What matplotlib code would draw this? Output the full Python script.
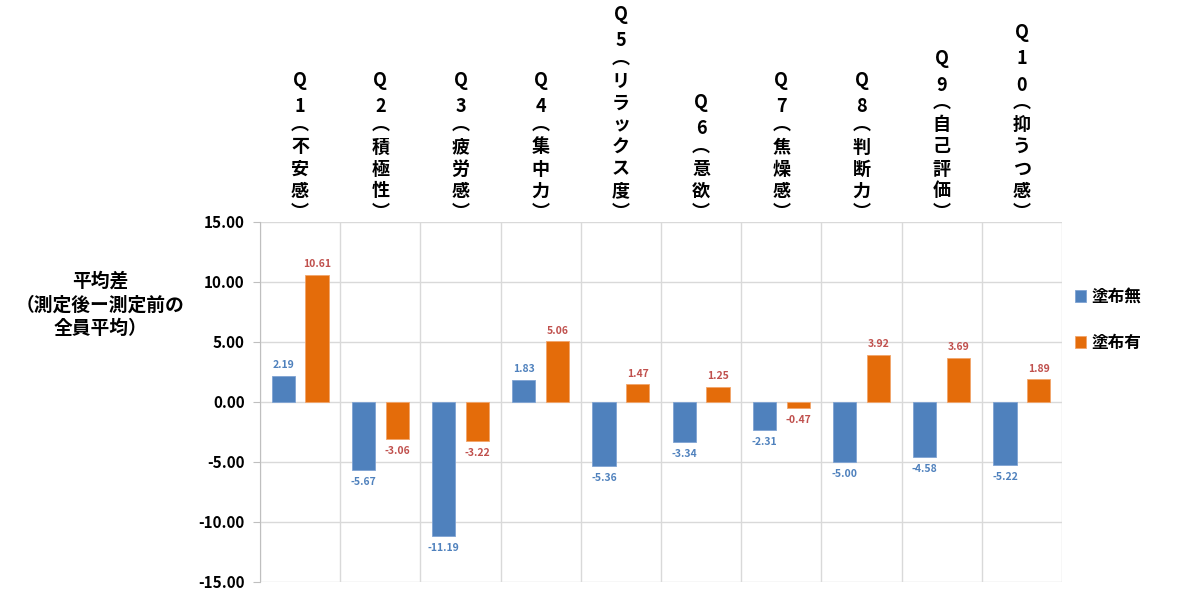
import numpy as np
import matplotlib
matplotlib.use("Agg")
import matplotlib.pyplot as plt
import matplotlib.transforms as mtransforms

plt.rcParams['font.family'] = ['Noto Sans CJK JP', 'DejaVu Sans']

# data
questions = ["Q1", "Q2", "Q3", "Q4", "Q5", "Q6", "Q7", "Q8", "Q9", "Q10"]
names = ["不安感", "積極性", "疲労感", "集中力", "リラックス度", "意欲", "焦燥感", "判断力", "自己評価", "抑うつ感"]
no_coat = [2.19, -5.67, -11.19, 1.83, -5.36, -3.34, -2.31, -5.00, -4.58, -5.22]
with_coat = [10.61, -3.06, -3.22, 5.06, 1.47, 1.25, -0.47, 3.92, 3.69, 1.89]
series_names = ["塗布無", "塗布有"]

blue = "#4F81BD"
orange = "#E46C0A"
blue_txt = "#4F81BD"
red_txt = "#C0504D"

fig = plt.figure(figsize=(12, 5.92), dpi=100)
ax = fig.add_axes([260 / 1200, 10 / 592, 802 / 1200, 360 / 592])

x = np.arange(len(questions))
w = 0.29
off = 0.21
ax.bar(x - off, no_coat, w, color=blue, edgecolor="#7FA3D3", linewidth=0.6, label=series_names[0], zorder=3)
ax.bar(x + off, with_coat, w, color=orange, edgecolor="#F2A56B", linewidth=0.6, label=series_names[1], zorder=3)

# value labels
for xi, v in zip(x, no_coat):
    ax.annotate(f"{v:.2f}", (xi - off, v), xytext=(0, 4 if v >= 0 else -5),
                textcoords="offset points", ha="center", va="bottom" if v >= 0 else "top",
                fontsize=7.5, color=blue_txt, fontweight="bold")
for xi, v in zip(x, with_coat):
    ax.annotate(f"{v:.2f}", (xi + off, v), xytext=(0, 4 if v >= 0 else -5),
                textcoords="offset points", ha="center", va="bottom" if v >= 0 else "top",
                fontsize=7.5, color=red_txt, fontweight="bold")

ax.set_xlim(-0.5, len(questions) - 0.5)
ax.set_ylim(-15, 15)
ax.set_yticks(np.arange(-15, 16, 5))
ax.set_yticklabels([f"{t:.2f}" for t in np.arange(-15, 16, 5)], fontsize=11, fontweight="bold")
ax.set_xticks(np.arange(-0.5, len(questions), 1))
ax.set_xticklabels([])
ax.tick_params(axis="x", length=0)
ax.tick_params(axis="y", length=5, color="#BFBFBF", pad=6)
ax.grid(True, color="#D9D9D9", linewidth=1, zorder=0)
ax.set_axisbelow(True)
for s in ["top", "right", "bottom"]:
    ax.spines[s].set_visible(False)
ax.spines["left"].set_color("#BFBFBF")

# vertical category labels on top, stacked character by character (pixel offsets)
trans = mtransforms.blended_transform_factory(ax.transData, fig.transFigure)
for xi, q, n in zip(x, questions, names):
    y = 204  # pixel from top for closing bracket
    items = [("︶", y + 8)]
    y -= 13
    for ch in reversed(n):
        items.append((ch, y))
        y -= 22
    y += 7
    items.append(("︵", y - 8))
    y -= 25
    for ch in reversed(q):
        items.append((ch, y))
        y -= 26
    for ch, yy in items:
        ax.text(xi, 1 - yy / 592, ch, transform=trans, ha="center", va="center",
                fontsize=13, fontweight="bold")

# y label
fig.text(100 / 1200, 1 - 305 / 592, "平均差\n（測定後ー測定前の\n全員平均）", ha="center", va="center",
         fontsize=13.5, fontweight="bold", linespacing=1.3)

# legend
ax.legend(loc="center left", bbox_to_anchor=(0.997, 0.728), frameon=False,
          handlelength=0.7, handleheight=0.7, labelspacing=1.7, handletextpad=0.3,
          prop={"weight": "bold", "size": 12})

fig.savefig("out.png", dpi=100)
